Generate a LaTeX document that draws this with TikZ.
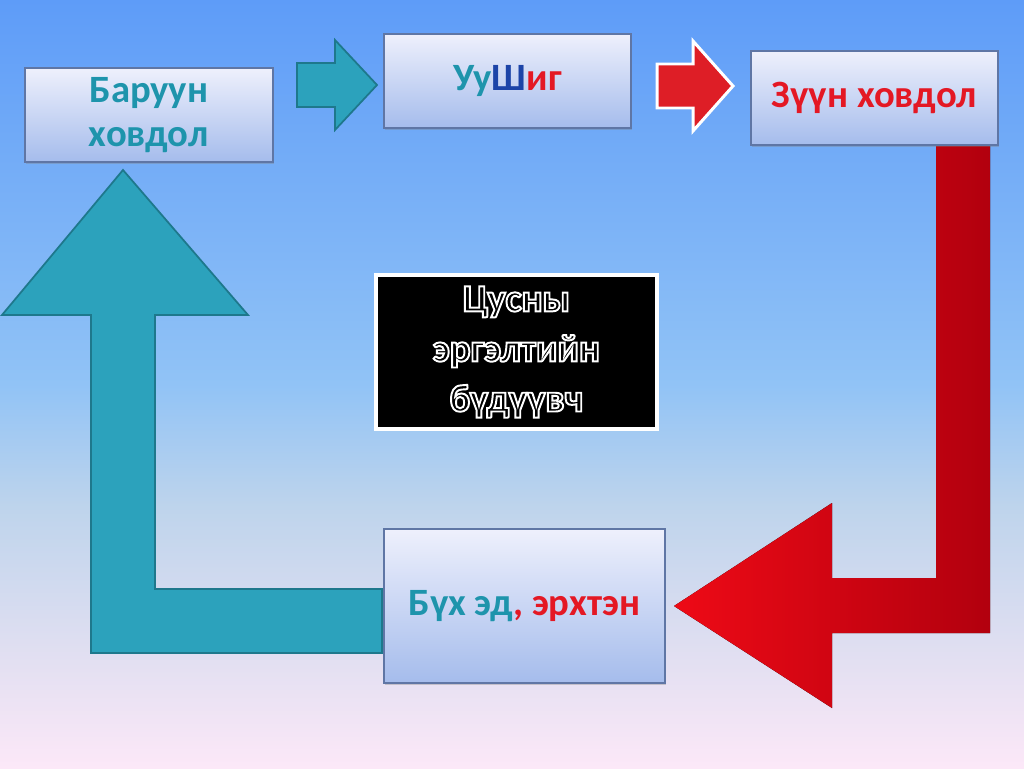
\documentclass[tikz,border=0pt]{standalone}
\usepackage{fontspec}
\setmainfont{Carlito}
\usetikzlibrary{shadows}

\definecolor{bgtop}{RGB}{94,156,248}
\definecolor{bgmid}{RGB}{145,195,246}
\definecolor{bglow}{RGB}{190,212,236}
\definecolor{bglav}{RGB}{234,226,243}
\definecolor{bgbot}{RGB}{252,232,248}
\definecolor{boxtop}{RGB}{238,240,252}
\definecolor{boxbot}{RGB}{165,188,236}
\definecolor{boxline}{RGB}{95,118,165}
\definecolor{tealfill}{RGB}{44,162,188}
\definecolor{tealline}{RGB}{30,120,140}
\definecolor{tealtxt}{RGB}{30,148,172}
\definecolor{redlite}{RGB}{238,10,22}
\definecolor{reddark}{RGB}{178,0,14}
\definecolor{redsmall}{RGB}{222,30,38}
\definecolor{redtxt}{RGB}{228,24,36}
\definecolor{bluetxt}{RGB}{28,68,168}

% hollow (outlined) letters
\newcommand{\hollow}[1]{\special{pdf:code 1 Tr 1.1 w}#1\special{pdf:code 0 Tr}}

\pgfdeclareverticalshading{bgfade}{100bp}{color(0bp)=(bgbot); color(25bp)=(bgbot);
  color(30bp)=(bglav); color(42bp)=(bglow); color(50bp)=(bgmid); color(75bp)=(bgtop); color(100bp)=(bgtop)}

\tikzstyle{blk}=[draw=boxline, line width=0.8pt, top color=boxtop, bottom color=boxbot,
  inner sep=0pt, align=center, font=\bfseries\fontsize{22}{25.6}\selectfont,
  drop shadow={opacity=0.35, shadow xshift=0.8pt, shadow yshift=-1.2pt}]
\tikzstyle{tealarr}=[fill=tealfill, draw=tealline, line width=1pt, line join=miter]
\tikzstyle{redarr}=[left color=redlite, right color=reddark, line join=miter]

\begin{document}
\begin{tikzpicture}[x=0.02cm,y=-0.02cm]
    \useasboundingbox (0,0) rectangle (1024,768);
    \shade[shading=bgfade] (0,0) rectangle (1024,768);

    % big arrows (behind the boxes)
    \draw[tealarr] (91,315) -- (2,315) -- (123,170) -- (248,315) -- (155,315) -- (155,589)
        -- (382,589) -- (382,653) -- (91,653) -- cycle;
    \fill[redarr] (936,140) -- (990,140) -- (990,633) -- (832,633) -- (832,708) -- (674,606)
        -- (832,503) -- (832,578) -- (936,578) -- cycle;

    % small arrows
    \draw[tealarr, shift={(297,85)}] (0,-22) -- (38,-22) -- (38,-45) -- (80,0) -- (38,45)
        -- (38,22) -- (0,22) -- cycle;
    \draw[fill=redsmall, draw=white, line width=1.7pt, shift={(657,86)}] (0,-22) -- (36,-22)
        -- (36,-45) -- (76,0) -- (36,45) -- (36,22) -- (0,22) -- cycle;

    % boxes
    \node[blk, minimum width=4.96cm, minimum height=1.88cm] (bar) at (149,115)
        {\color{tealtxt}Баруун\\[-1pt]\color{tealtxt}ховдол};
    \node[blk, minimum width=4.94cm, minimum height=1.88cm] (uush) at (507.5,81)
        {\color{tealtxt}Уу\color{bluetxt}Ш\color{redtxt}иг};
    \node[blk, minimum width=4.94cm, minimum height=1.88cm] (zuun) at (874.5,98)
        {\color{redtxt}Зүүн ховдол};
    \node[blk, minimum width=5.62cm, minimum height=3.08cm] (bukh) at (524.5,606)
        {\color{tealtxt}Бүх эд\color{redtxt}, эрхтэн};
    \node[draw=white, fill=black, line width=2pt, minimum width=5.62cm, minimum height=3.08cm,
        align=center, text=white, font=\bfseries\fontsize{22}{28.5}\selectfont,
        drop shadow={opacity=0.35, shadow xshift=0.8pt, shadow yshift=-1.2pt}] (tsus) at (516.5,352)
        {\hollow{Цусны}\\\hollow{эргэлтийн}\\\hollow{бүдүүвч}};
\end{tikzpicture}
\end{document}
